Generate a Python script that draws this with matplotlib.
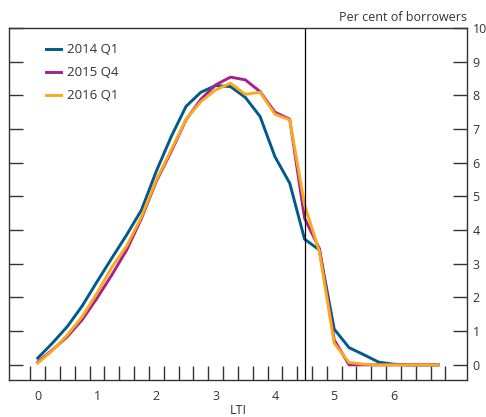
import matplotlib
matplotlib.use("Agg")
from matplotlib import pyplot as plt
import numpy as np

plt.rcParams['font.family'] = ['Open Sans', 'DejaVu Sans']

# LTI bins (0 to 6.75 in quarter steps)
lti = np.arange(0, 7.0, 0.25)

q1_2014 = [0.2, 0.65, 1.14, 1.75, 2.47, 3.17, 3.86, 4.6, 5.75, 6.77, 7.67, 8.09,
           8.29, 8.26, 7.94, 7.37, 6.18, 5.39, 3.73, 3.41, 1.06, 0.51, 0.30, 0.08,
           0.02, 0.0, 0.0, 0.0]
q4_2015 = [0.08, 0.45, 0.84, 1.34, 1.98, 2.67, 3.41, 4.35, 5.45, 6.33, 7.27, 7.88,
           8.31, 8.54, 8.46, 8.11, 7.5, 7.29, 4.35, 3.45, 0.74, 0.0, 0.0, 0.0,
           0.0, 0.0, 0.0, 0.0]
q1_2016 = [0.05, 0.43, 0.89, 1.43, 2.13, 2.9, 3.53, 4.4, 5.49, 6.38, 7.29, 7.81,
           8.16, 8.36, 8.03, 8.09, 7.44, 7.27, 4.75, 3.36, 0.64, 0.07, 0.02, 0.0,
           0.0, 0.0, 0.0, 0.0]

x_labels = [0, 1, 2, 3, 4, 5, 6]
y_ticks = list(range(0, 11))

blue = '#005a8c'
magenta = '#a6218e'
orange = '#fbaa1e'
grey = '#333333'

fig = plt.figure(figsize=(4.86, 4.17), dpi=100)
ax = fig.add_axes([0.0185, 0.0887, 0.9425, 0.8443])

ax.plot(lti, q1_2014, color=blue, lw=2.1, label='2014 Q1')
ax.plot(lti, q4_2015, color=magenta, lw=2.1, label='2015 Q4')
ax.plot(lti, q1_2016, color=orange, lw=2.1, label='2016 Q1')
ax.axvline(4.5, color='black', lw=0.9)

ax.set_xlim(-0.485, 7.24)
ax.set_ylim(-0.45, 10)

ax.set_xticks(x_labels)
ax.set_xticks(np.arange(-0.125, 7.0, 0.25), minor=True)
ax.tick_params(axis='x', which='major', length=0, pad=7, labelsize=9, labelcolor=grey)
ax.tick_params(axis='x', which='minor', direction='in', length=10, width=1, color=grey)

ax.set_yticks(y_ticks)
ax.tick_params(axis='y', which='major', direction='in', length=10, width=1, color=grey,
               left=True, right=True, labelleft=False, labelright=True,
               labelsize=9, labelcolor=grey, pad=4)

for s in ax.spines.values():
    s.set_color(grey)
    s.set_linewidth(1)

ax.set_xlabel('LTI', fontsize=9, color=grey, labelpad=1)
ax.text(1.0, 1.012, 'Per cent of borrowers', transform=ax.transAxes,
        ha='right', va='bottom', fontsize=9, color=grey)

leg = ax.legend(loc='upper left', bbox_to_anchor=(0.055, 0.99), frameon=False,
                fontsize=9.5, handlelength=1.1, handletextpad=0.5, labelspacing=0.75,
                labelcolor=grey)

fig.savefig('out.png', dpi=100)
